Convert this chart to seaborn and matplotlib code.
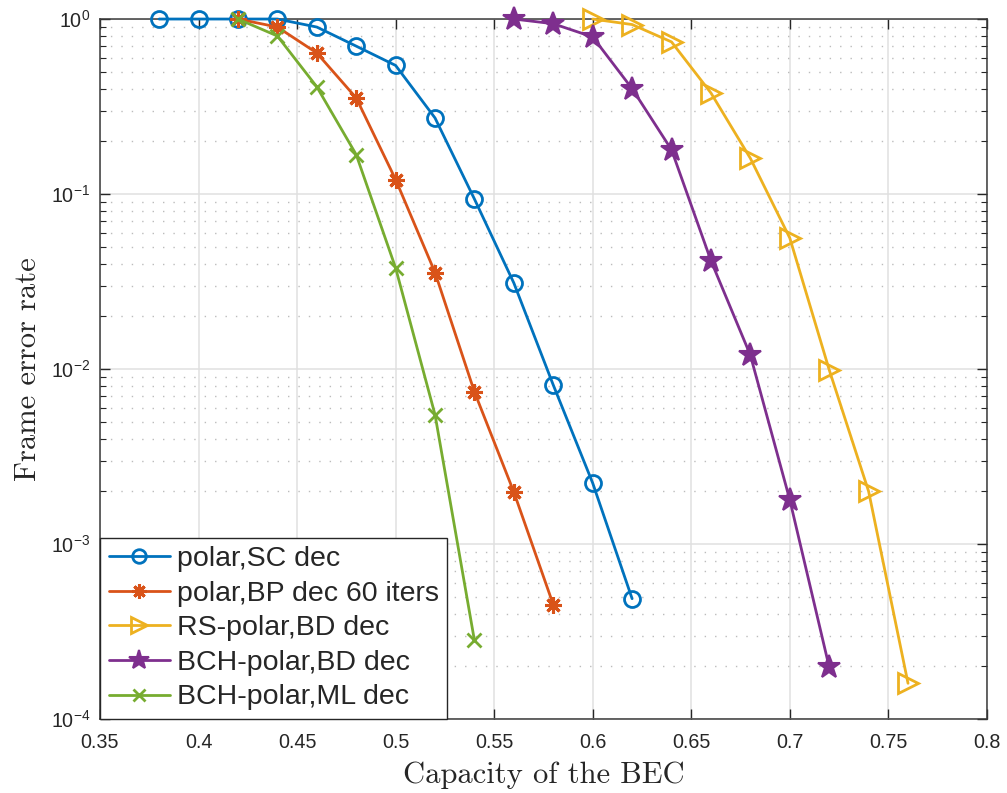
import numpy as np
import pandas as pd
import matplotlib
matplotlib.use("Agg")
import matplotlib.pyplot as plt
import seaborn as sns
from matplotlib.ticker import FixedLocator, FuncFormatter, LogLocator, NullFormatter

# ------------------------------------------------------------------
# data (capacity of BEC vs frame error rate)
# ------------------------------------------------------------------
cap_sc = [0.38, 0.40, 0.42, 0.44, 0.46, 0.48, 0.50, 0.52, 0.54, 0.56, 0.58, 0.60, 0.62]
fer_sc = [1.0, 1.0, 1.0, 1.0, 0.90, 0.70, 0.543, 0.272, 0.0936, 0.031, 0.0081, 0.00223, 0.000487]

cap_bp = [0.42, 0.44, 0.46, 0.48, 0.50, 0.52, 0.54, 0.56, 0.58]
fer_bp = [1.0, 0.90, 0.64, 0.354, 0.121, 0.0356, 0.0074, 0.00198, 0.00045]

cap_rs = [0.60, 0.62, 0.64, 0.66, 0.68, 0.70, 0.72, 0.74, 0.76]
fer_rs = [1.0, 0.93, 0.74, 0.378, 0.16, 0.0561, 0.0099, 0.0020, 0.00016]

cap_bch_bd = [0.56, 0.58, 0.60, 0.62, 0.64, 0.66, 0.68, 0.70, 0.72]
fer_bch_bd = [1.0, 0.94, 0.79, 0.40, 0.179, 0.0416, 0.012, 0.00179, 0.000198]

cap_bch_ml = [0.42, 0.44, 0.46, 0.48, 0.50, 0.52, 0.54]
fer_bch_ml = [1.0, 0.80, 0.41, 0.168, 0.0378, 0.00548, 0.000281]

labels = ["polar,SC dec", "polar,BP dec 60 iters", "RS-polar,BD dec",
          "BCH-polar,BD dec", "BCH-polar,ML dec"]
x_ticks = [0.35, 0.40, 0.45, 0.50, 0.55, 0.60, 0.65, 0.70, 0.75, 0.80]

# ------------------------------------------------------------------
# style
# ------------------------------------------------------------------
sns.set_style("ticks")
plt.rcParams["font.family"] = ["Liberation Sans", "DejaVu Sans"]
plt.rcParams["mathtext.fontset"] = "custom"
plt.rcParams["mathtext.rm"] = "Liberation Sans"
plt.rcParams["mathtext.it"] = "Liberation Sans:italic"
plt.rcParams["mathtext.bf"] = "Liberation Sans:bold"

colors = ["#0072BD", "#D95319", "#EDB120", "#7E2F8E", "#77AC30"]
series = [
    (cap_sc, fer_sc, dict(marker="o", markersize=11.5, markerfacecolor="none", markeredgewidth=2)),
    (cap_bp, fer_bp, dict(marker=(8, 2, 0), markersize=12, markeredgewidth=2.2)),
    (cap_rs, fer_rs, dict(marker=">", markersize=14, markerfacecolor="none", markeredgewidth=2)),
    (cap_bch_bd, fer_bch_bd, dict(marker="*", markersize=17, markeredgewidth=1.5)),
    (cap_bch_ml, fer_bch_ml, dict(marker="x", markersize=10, markeredgewidth=2)),
]

fig, ax = plt.subplots(figsize=(10.07, 7.93), dpi=100)
fig.subplots_adjust(left=0.0993, right=0.980, top=0.976, bottom=0.0933)

for (x, y, mk), lab, col in zip(series, labels, colors):
    df = pd.DataFrame({"cap": x, "fer": y})
    sns.lineplot(data=df, x="cap", y="fer", ax=ax, color=col, label=lab,
                 linewidth=2, markeredgecolor=col, clip_on=False, zorder=3, **mk)

ax.set_yscale("log")
ax.set_xlim(0.35, 0.8)
ax.set_ylim(1e-4, 1)

ax.xaxis.set_major_locator(FixedLocator(x_ticks))
ax.xaxis.set_major_formatter(FuncFormatter(lambda v, p: f"{v:g}"))
ax.yaxis.set_major_locator(LogLocator(base=10, numticks=10))
ax.yaxis.set_minor_locator(LogLocator(base=10, subs=np.arange(2, 10), numticks=20))
ax.yaxis.set_minor_formatter(NullFormatter())
ax.yaxis.set_major_formatter(FuncFormatter(lambda v, p: r"$10^{%d}$" % round(np.log10(v))))

ax.tick_params(which="both", direction="in", top=True, right=True,
               labelsize=14.2, colors="#262626", labelcolor="#262626")
ax.tick_params(which="major", length=7, width=1)
ax.tick_params(which="minor", length=4, width=0.8)
ax.tick_params(axis="x", pad=10)
ax.tick_params(axis="y", pad=7)

ax.grid(which="major", color="#e0e0e0", linewidth=1.1, linestyle="-")
ax.grid(which="minor", axis="y", color="#bcbcbc", linewidth=1.0, linestyle=(0, (1, 6.5)))
ax.set_axisbelow(True)
for sp in ax.spines.values():
    sp.set_color("#3a3a3a")
    sp.set_linewidth(1.1)

ax.set_xlabel("Capacity of the BEC", fontfamily="cmr10", fontsize=22, color="#262626", labelpad=7)
ax.set_ylabel("Frame error rate", fontfamily="cmr10", fontsize=22, color="#262626", labelpad=6)

leg = ax.legend(loc="lower left", fontsize=20.5, frameon=True, fancybox=False,
                borderaxespad=0, handlelength=2.15, labelspacing=0.3,
                handletextpad=0.25, borderpad=0.3, markerscale=0.85)
leg.get_frame().set_edgecolor("#262626")
leg.get_frame().set_linewidth(1.0)
leg.get_frame().set_alpha(1)
leg.set_zorder(5)

fig.savefig("out.png", dpi=100)
